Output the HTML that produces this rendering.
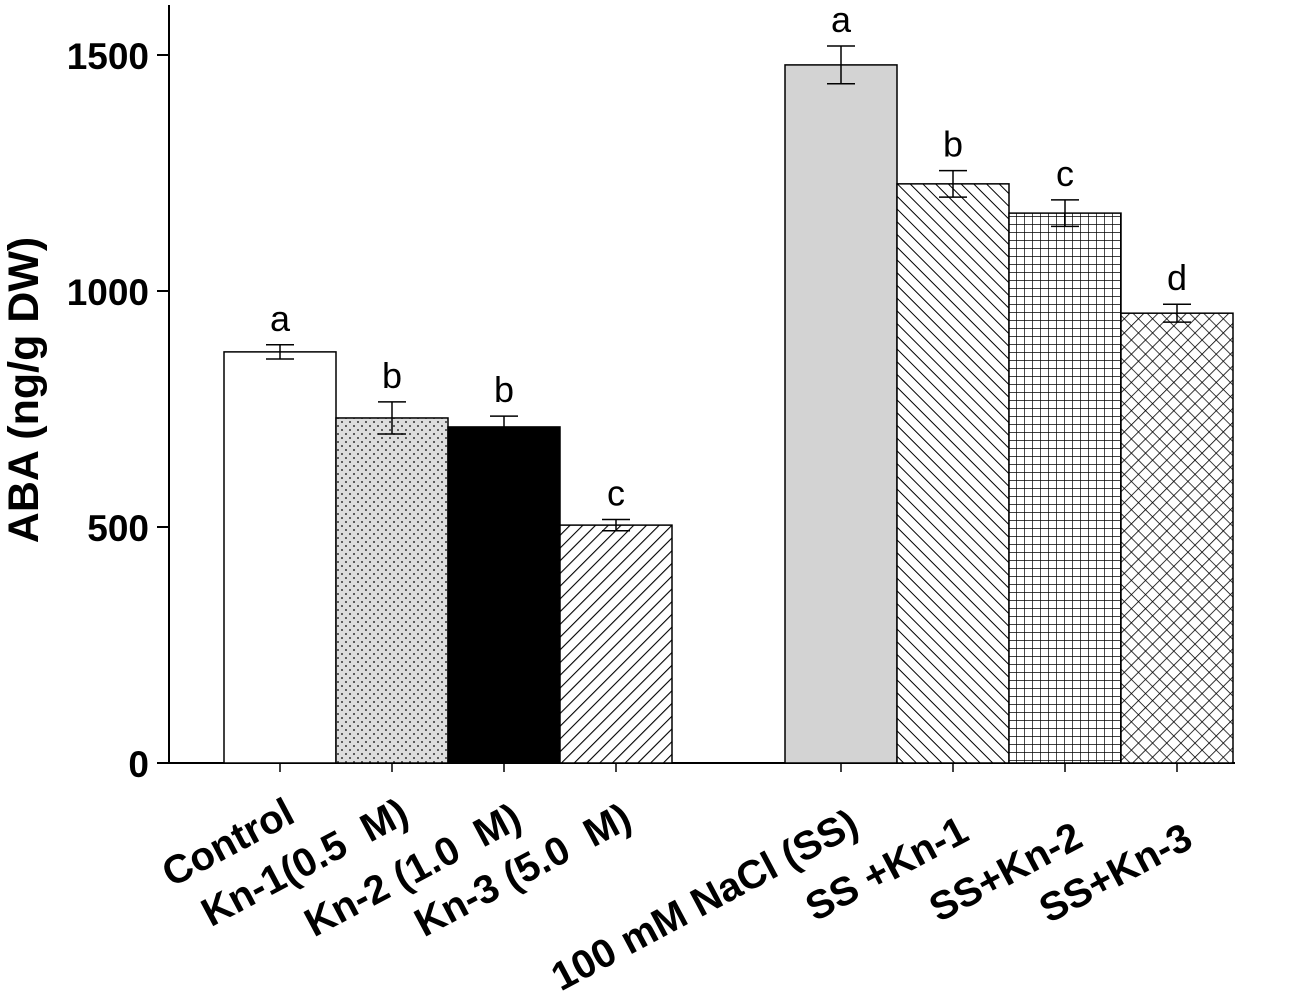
<!DOCTYPE html>
<html><head><meta charset="utf-8"><style>
body{margin:0;background:#fff}
svg{display:block}
text{font-family:"Liberation Sans",Arial,sans-serif;white-space:pre}
</style></head><body>
<svg id="chart" width="1300" height="1001" viewBox="0 0 1300 1001">
<defs>
<pattern id="dots" width="8" height="8" patternUnits="userSpaceOnUse"><rect width="8" height="8" fill="#ddd"/><circle cx="2" cy="2" r="1" fill="#333"/><circle cx="6" cy="6" r="1" fill="#333"/></pattern>
<pattern id="fwd" width="9" height="9" patternUnits="userSpaceOnUse" patternTransform="rotate(45)"><rect width="9" height="9" fill="#fff"/><line x1="0" y1="0" x2="0" y2="9" stroke="#000" stroke-width="2.2"/></pattern>
<pattern id="back" width="9" height="9" patternUnits="userSpaceOnUse" patternTransform="rotate(-45)"><rect width="9" height="9" fill="#fff"/><line x1="0" y1="0" x2="0" y2="9" stroke="#000" stroke-width="2"/></pattern>
<pattern id="grid" width="8" height="8" patternUnits="userSpaceOnUse"><rect width="8" height="8" fill="#fff"/><path d="M0 0H8M0 0V8" stroke="#000" stroke-width="1.4"/></pattern>
<pattern id="xh" width="10" height="10" patternUnits="userSpaceOnUse" patternTransform="rotate(45)"><rect width="10" height="10" fill="#fff"/><path d="M0 0H10M0 0V10" stroke="#000" stroke-width="1.6"/></pattern>
</defs>
<g id="plot"></g>
<text transform="translate(38,390) rotate(-90)" text-anchor="middle" font-size="43" font-weight="bold">ABA (ng/g DW)</text>
</svg>
<script>
const categories=["Control","Kn-1(0.5  M)","Kn-2 (1.0  M)","Kn-3 (5.0  M)","100 mM NaCl (SS)","SS +Kn-1","SS+Kn-2","SS+Kn-3"];
const values=[871,731,712,504,1479,1227,1165,953];
const errors=[15,34,23,12,40,28,28,19];
const letters=["a","b","b","c","a","b","c","d"];
const yTicks=[0,500,1000,1500];
const fills=["#fff","url(#dots)","#000","url(#fwd)","#d3d3d3","url(#back)","url(#grid)","url(#xh)"];
const labelEndX=[297,411,524,634,861,971,1085,1195];
const labelEndY=[821,821,826,826,832,839,845,846];
const NS="http://www.w3.org/2000/svg";
const g=document.getElementById('plot');
const y0=763,scale=0.472;
function yS(v){return y0-v*scale;}
const barW=112;
function xS(i){return (i<4?224:785)+(i%4)*barW;}
function el(t,a){const e=document.createElementNS(NS,t);for(const k in a)e.setAttribute(k,a[k]);g.appendChild(e);return e;}
let ax=el('line',{x1:169,y1:5,x2:169,y2:y0,stroke:'#000','stroke-width':2});


let xa=el('line',{x1:169,y1:y0,x2:1235,y2:y0,stroke:'#000','stroke-width':2});


yTicks.forEach(v=>{
 let t=el('line',{x1:157,y1:yS(v),x2:169,y2:yS(v),stroke:'#000','stroke-width':2});
 
 
 let l=el('text',{x:149,y:yS(v)+14,'text-anchor':'end','font-size':37,'font-weight':'bold'});
 l.textContent=v;
 
 
});
values.forEach((v,i)=>{
 const x=xS(i),cx=x+barW/2;
 let r=el('rect',{x:x,y:yS(v),width:barW,height:y0-yS(v),fill:fills[i],stroke:'#000','stroke-width':1.5});
 
 
 const t=yS(v+errors[i]),b=yS(v-errors[i]);
 let e=el('path',{d:`M${cx} ${t}V${b}M${cx-14} ${t}H${cx+14}M${cx-14} ${b}H${cx+14}`,stroke:'#000','stroke-width':1.5,fill:'none'});
 
 
 let lt=el('text',{x:cx,y:t-14,'text-anchor':'middle','font-size':36,'font-family':'Liberation Serif, serif'});
 lt.textContent=letters[i];
 
 
 let tk=el('line',{x1:cx,y1:y0,x2:cx,y2:y0+9,stroke:'#000','stroke-width':1.5});
 
 
 const ex=labelEndX[i],ey=labelEndY[i];
 let lb=el('text',{x:ex,y:ey,'text-anchor':'end','font-size':40,'font-weight':'bold',transform:`rotate(-28 ${ex} ${ey})`});
 lb.textContent=categories[i];
 
 
});
</script>
</body></html>
